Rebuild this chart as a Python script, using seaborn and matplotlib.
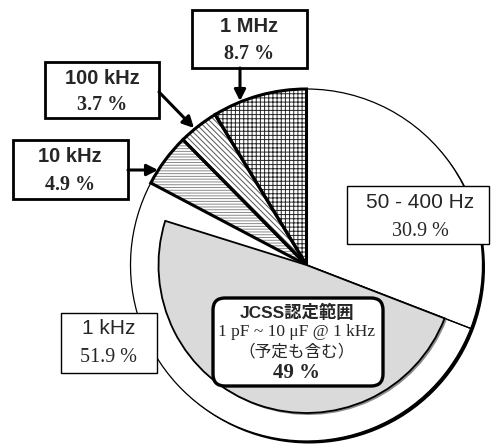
import matplotlib
matplotlib.use("Agg")
import matplotlib.pyplot as plt
from matplotlib.patches import Wedge, Circle, Rectangle, FancyBboxPatch
import seaborn as sns

# Share of calibration requests per measurement frequency
freq_labels = ["50 - 400 Hz", "1 kHz", "10 kHz", "100 kHz", "1 MHz"]
shares = [30.9, 51.9, 4.9, 3.7, 8.7]
share_texts = ["30.9 %", "51.9 %", "4.9 %", "3.7 %", "8.7 %"]

# Part of the 1 kHz requests covered by the JCSS accreditation
jcss_share = 49.0
jcss_title = "JCSS認定範囲"
jcss_range = "1 pF ~ 10 μF @ 1 kHz"
jcss_note = "（予定も含む）"
jcss_text = "49 %"

sns.set_theme(style="white")
plt.rcParams["font.family"] = ["Liberation Sans", "Noto Sans CJK JP", "DejaVu Sans"]
plt.rcParams["hatch.linewidth"] = 0.7

W, H = 491, 446
fig = plt.figure(figsize=(W / 100, H / 100), dpi=100)
ax = fig.add_axes([0, 0, 1, 1])


def py(y):
    return H - y


cx, cy = 306.5, py(265)
R, r_in = 176, 148

# drop shadow under the whole disc
ax.add_patch(Circle((cx + 2.5, cy - 2.5), R, facecolor="black", edgecolor="none", zorder=0.5))

hatches = [None, None, "------", "\\\\\\\\\\\\", "++++"]
hatch_colors = ["black", "black", "#8a8a8a", "#555555", "#262626"]
edge_w = [0.9, 0.9, 2.2, 2.2, 2.2]

wedges, _ = ax.pie(shares, startangle=90, counterclock=False, center=(cx, cy), radius=R,
                   colors=["white"] * len(shares), hatch=hatches,
                   wedgeprops=dict(linewidth=0))
for w, hc in zip(wedges, hatch_colors):
    w.set_edgecolor(hc)
    w.set_zorder(1)
# thin outlines first, heavy ones on top
for i in sorted(range(len(wedges)), key=lambda k: edge_w[k]):
    w = wedges[i]
    ax.add_patch(Wedge(w.center, w.r, w.theta1, w.theta2, fill=False, edgecolor="black",
                       linewidth=edge_w[i], zorder=2 + 0.1 * edge_w[i]))

# JCSS sub-sector inside the 1 kHz slice
rest = sum(shares) - shares[0] - jcss_share
inner, _ = ax.pie([shares[0], jcss_share, rest], startangle=90, counterclock=False,
                  center=(cx, cy), radius=r_in, colors=["none", "#dadada", "none"],
                  wedgeprops=dict(linewidth=0))
inner[0].remove()
inner[2].remove()
jw = inner[1]
ax.add_patch(Wedge((cx + 2, cy - 2), jw.r, jw.theta1, jw.theta2,
                   facecolor="#8c8c8c", edgecolor="none", zorder=2.8))
jw.set_edgecolor("black")
jw.set_linewidth(1.3)
jw.set_zorder(3)


def box(x0, y0, x1, y1, lw):
    ax.add_patch(Rectangle((x0, py(y1)), x1 - x0, y1 - y0, facecolor="white",
                           edgecolor="black", linewidth=lw, zorder=5))


def label(x, y, s, serif=False, bold=False, size=15):
    fam = ["Liberation Serif", "DejaVu Serif"] if serif else ["Liberation Sans", "Noto Sans CJK JP"]
    ax.text(x, py(y), s, ha="center", va="center", fontsize=size,
            fontweight="bold" if bold else "normal", family=fam, zorder=6)


def arrow(x0, y0, x1, y1):
    ax.annotate("", xy=(x1, py(y1)), xytext=(x0, py(y0)), zorder=7,
                arrowprops=dict(arrowstyle="-|>,head_length=0.55,head_width=0.28",
                                lw=2.2, color="black", shrinkA=0, shrinkB=0))


# 50 - 400 Hz
box(347, 186, 489, 244, 1.0)
label(420, 202, freq_labels[0], size=15)
label(420, 231, share_texts[0], serif=True, size=14.5)

# 1 kHz
box(61, 313, 157, 373, 1.0)
label(109, 328, freq_labels[1], size=15)
label(109, 357, share_texts[1], serif=True, size=14.5)

# 10 kHz
box(13, 140, 128, 199, 2.0)
label(70, 157, freq_labels[2], bold=True, size=14.5)
label(70, 185, share_texts[2], serif=True, bold=True, size=14.5)
arrow(128, 170, 158, 170)

# 100 kHz
box(45, 62, 159, 118, 2.0)
label(102, 79, freq_labels[3], bold=True, size=14.5)
label(102, 105, share_texts[3], serif=True, bold=True, size=14.5)
arrow(159, 92, 194, 128)

# 1 MHz
box(192, 10, 307, 68, 2.0)
label(249, 27, freq_labels[4], bold=True, size=14.5)
label(249, 54, share_texts[4], serif=True, bold=True, size=14.5)
arrow(240, 68, 240, 101)

# JCSS callout
ax.add_patch(FancyBboxPatch((213, py(386)), 170, 88,
                            boxstyle="round,pad=0,rounding_size=12",
                            facecolor="white", edgecolor="black", linewidth=2.4, zorder=5))
label(297, 312, jcss_title, bold=True, size=12.5)
label(297, 332, jcss_range, serif=True, size=12.5)
ax.text(297, py(352), jcss_note, ha="center", va="center", fontsize=12,
        family=["Noto Sans CJK JP", "DejaVu Sans"], zorder=6)
label(297, 373, jcss_text, serif=True, bold=True, size=15)

ax.set_xlim(0, W)
ax.set_ylim(0, H)
ax.set_aspect("auto")
ax.axis("off")

fig.savefig("out.png", dpi=100)
